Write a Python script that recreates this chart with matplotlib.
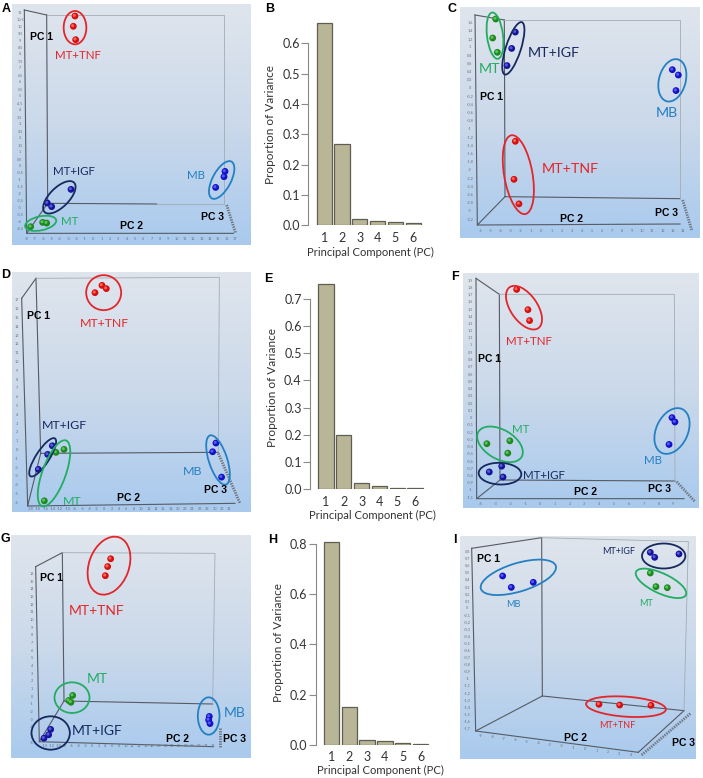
import numpy as np
import matplotlib
matplotlib.use("Agg")
import matplotlib.pyplot as plt
from matplotlib.colors import LinearSegmentedColormap
from matplotlib.patches import Ellipse
from matplotlib.transforms import blended_transform_factory, offset_copy

W, H = 703, 778

# variance explained
pc_labels = [1, 2, 3, 4, 5, 6]
var_b = [0.666, 0.267, 0.020, 0.015, 0.011, 0.008]
var_e = [0.755, 0.197, 0.020, 0.009, 0.004, 0.004]
var_h = [0.807, 0.150, 0.017, 0.015, 0.007, 0.004]

# PCA scores per panel (PC2, PC1)
a_tnf_x, a_tnf_y = [-2.2, -2.4, -2.12], [10.76, 10.02, 9.06]
a_igf_x, a_igf_y = [-2.68, -5.52, -5.0], [-1.68, -2.66, -2.92]
a_mt_x, a_mt_y = [-7.52, -6.08, -5.6], [-4.36, -4.05, -4.10]
a_mb_x, a_mb_y = [15.8, 15.68, 14.68], [-0.39, -0.77, -1.54]

c_tnf_x, c_tnf_y = [-2.57, -2.70, -2.21], [-1.30, -2.23, -2.83]
c_igf_x, c_igf_y = [-2.57, -2.93, -3.39], [1.37, 0.97, 0.55]
c_mt_x, c_mt_y = [-4.51, -4.81, -4.35], [1.69, 1.225, 0.875]
c_mb_x, c_mb_y = [12.98, 13.57, 13.34], [0.45, 0.32, -0.06]

d_tnf_x, d_tnf_y = [-2.52, -0.62, 0.56], [17.87, 18.70, 18.33]
d_igf_x, d_igf_y = [-14.11, -15.38, -17.92], [0.48, -0.5, -2.2]
d_mt_x, d_mt_y = [-13.12, -10.94, -16.29], [-0.27, 0.07, -5.77]
d_mb_x, d_mb_y = [30.36, 29.46, 31.9], [0.79, -0.2, -3.08]

f_tnf_x, f_tnf_y = [-1.57, -0.81, -0.70], [1.77, 1.49, 1.34]
f_igf_x, f_igf_y = [-3.42, -2.58, -2.49], [-0.75, -0.67, -0.82]
f_mt_x, f_mt_y = [-3.58, -2.03, -2.17], [-0.36, -0.32, -0.49]
f_mb_x, f_mb_y = [8.91, 9.11, 8.71], [0.0, -0.06, -0.37]

g_tnf_x, g_tnf_y = [5.58, 4.68, 3.99], [17.99, 16.97, 15.78]
g_igf_x, g_igf_y = [-12.31, -12.91, -14.3], [-4.27, -4.97, -5.42]
g_mt_x, g_mt_y = [-5.75, -6.94, -6.25], [0.16, -0.50, -0.73]
g_mb_x, g_mb_y = [35.0, 34.8, 35.2], [-2.58, -3.03, -3.51]

i_tnf_x, i_tnf_y = [1.23, 3.02, 5.73], [-1.36, -1.37, -1.375]
i_igf_x, i_igf_y = [5.67, 6.05, 8.15], [0.79, 0.72, 0.767]
i_mt_x, i_mt_y = [5.67, 6.16, 7.14], [0.498, 0.305, 0.29]
i_mb_x, i_mb_y = [-7.10, -6.35, -4.45], [0.456, 0.295, 0.366]

RED, NAVY, GREEN, BLUE = "#e3262b", "#17295f", "#22ad62", "#2580c3"
SPHERES = {"tnf": ("#d80f0f", "#ff7a6a"), "igf": ("#14149c", "#6a6ae8"),
           "mt": ("#1c8a1c", "#6fd06f"), "mb": ("#1212c8", "#6a6aff")}

plt.rcParams["font.family"] = ["Lato", "DejaVu Sans"]
fig = plt.figure(figsize=(W / 100, H / 100), dpi=100)
fig.patch.set_facecolor("white")

# overlay in pixels, for frames, ellipses and labels
pix = fig.add_axes([0, 0, 1, 1], zorder=5)
pix.set_xlim(0, W)
pix.set_ylim(H, 0)
pix.axis("off")
pix.patch.set_alpha(0)

bg = LinearSegmentedColormap.from_list("bg", ["#dfe5ed", "#cbd9ea", "#a9caee"])


def fmt(v):
    s = ("%.1f" % v).replace(".", ",")
    return s[:-2] if s.endswith(",0") else s


def scatter_panel(p):
    ox, oy = p["origin"]
    l, t, r, b = p["box"]
    # crop coordinates were read at 3x
    zx = lambda v: ox + v / 3
    zy = lambda v: oy + v / 3
    ax = fig.add_axes([l / W, 1 - b / H, (r - l) / W, (b - t) / H], zorder=2)
    ax.imshow(np.linspace(0, 1, 200)[:, None], cmap=bg, aspect="auto",
              extent=[0, 1, 0, 1], transform=ax.transAxes, zorder=0)
    (v1, x1), (v2, x2) = p["xcal"]
    sx = (v2 - v1) / (zx(x2) - zx(x1))
    ax.set_xlim(v1 + (l - zx(x1)) * sx, v1 + (r - zx(x1)) * sx)
    (u1, y1), (u2, y2) = p["ycal"]
    sy = (u2 - u1) / (zy(y2) - zy(y1))
    ax.set_ylim(u1 + (b - zy(y1)) * sy, u1 + (t - zy(y1)) * sy)
    ax.axis("off")

    for seg in p["dark"]:
        xs, ys = zip(*seg)
        ax.plot([zx(v) for v in xs], [zy(v) for v in ys], color="#565b64", lw=0.8,
                transform=pix.transData, clip_on=False, zorder=1)
    for seg in p["light"]:
        xs, ys = zip(*seg)
        ax.plot([zx(v) for v in xs], [zy(v) for v in ys], color="#a3abb5", lw=0.6,
                transform=pix.transData, clip_on=False, zorder=1)
    xs, ys = zip(*p["hatch"])
    ax.plot([zx(v) for v in xs], [zy(v) for v in ys], color="#6f7680", lw=2,
            ls=(0, (0.5, 0.4)), transform=pix.transData, clip_on=False, zorder=1)

    # tiny tick labels
    tx = blended_transform_factory(ax.transData, pix.transData)
    ty = blended_transform_factory(pix.transData, ax.transData)
    for v in p["xticks"]:
        ypos = p["xtick_y"]
        if "xtick_slope" in p:
            ypos = ypos + p["xtick_slope"] * (v - p["xticks"][0])
        ax.text(v, zy(ypos), fmt(v), transform=tx, fontsize=2.8, color="#6c7480",
                ha="center", va="center", zorder=1)
    for v in p["yticks"]:
        ax.text(zx(p["ytick_x"]), v, fmt(v), transform=ty, fontsize=2.8, color="#6c7480",
                ha="center", va="center", zorder=1)

    shift = offset_copy(ax.transData, fig=fig, x=-0.5, y=0.5, units="points")
    for key, xv, yv in p["groups"]:
        dark, light = SPHERES[key]
        ax.scatter(xv, yv, s=24, color=dark, edgecolors="none", zorder=3)
        ax.scatter(xv, yv, s=5, color=light, edgecolors="none", zorder=4, transform=shift, alpha=0.8)

    for cx, cy, major, minor, ang, col in p["ellipses"]:
        pix.add_patch(Ellipse((zx(cx), zy(cy)), major / 3, minor / 3, angle=ang,
                              fill=False, ec=col, lw=1.3))
    for txt, cx, cy, col in p["labels"]:
        pix.text(zx(cx), zy(cy), txt, color=col, fontsize=p["fs"], ha="center", va="center")
    for txt, cx, cy in p["pcs"]:
        pix.text(zx(cx), zy(cy), txt, color="black", fontsize=7.5, ha="center", va="center",
                 fontweight="bold", family="Liberation Sans")


def bar_panel(values, yticks, left, x0, y0, ppu, top, xl_y, xl_x, yl_x, yl_y, lab_y):
    right = left + 118
    ax = fig.add_axes([left / W, 1 - y0 / H, (right - left) / W, (y0 - top) / H], zorder=2)
    ax.bar(pc_labels, values, width=0.86, color="#b9b597", edgecolor="#5e5e52", lw=0.9)
    ax.set_xlim(1 - (x0 - left) / 17.8, 1 + (right - x0) / 17.8)
    ax.set_ylim(0, (y0 - top) / ppu)
    for s in ["top", "right", "bottom"]:
        ax.spines[s].set_visible(False)
    ax.spines["left"].set_color("#8a8a8a")
    ax.spines["left"].set_bounds(0, yticks[-1])
    ax.set_yticks(yticks, ["%.1f" % v for v in yticks])
    ax.tick_params(axis="y", length=5, width=0.8, color="#8a8a8a", labelsize=9, labelcolor="#333333", pad=1)
    ax.set_xticks(pc_labels)
    ax.tick_params(axis="x", length=0, labelsize=9, labelcolor="#333333", pad=0)
    for lab in ax.get_xticklabels():
        lab.set_visible(False)
    ax.patch.set_alpha(0)
    for v in pc_labels:
        pix.text(x0 + 17.8 * (v - 1), lab_y, str(v), fontsize=9, color="#333333", ha="center", va="center")
    pix.text(xl_x, xl_y, "Principal Component (PC)", fontsize=8.1, color="#333333", ha="center", va="center")
    pix.text(yl_x, yl_y, "Proportion of Variance", fontsize=8.5, color="#333333", ha="center", va="center",
             rotation=90)


panels = [
    dict(origin=(0, 0), box=(12, 4, 250, 245), fs=8.3,
         xcal=((-8, 80), (17, 705)), ycal=((11, 38), (-4.5, 686)),
         xticks=list(range(-8, 18)), xtick_y=717, yticks=list(np.arange(-4.5, 11.1, 0.5)), ytick_x=60,
         dark=[[(73, 30), (140, 45)], [(73, 30), (80, 700), (700, 700)], [(140, 45), (143, 610)],
               [(143, 610), (80, 700)], [(143, 610), (470, 612)]],
         light=[[(140, 45), (673, 45), (673, 610)], [(470, 612), (673, 612)]],
         hatch=[(680, 615), (707, 700)],
         groups=[("tnf", a_tnf_x, a_tnf_y), ("igf", a_igf_x, a_igf_y), ("mt", a_mt_x, a_mt_y), ("mb", a_mb_x, a_mb_y)],
         ellipses=[(225, 83, 68, 100, 0, RED), (178, 592, 125, 58, -45, NAVY),
                   (122, 670, 95, 42, -12, GREEN), (665, 540, 125, 55, -62, BLUE)],
         labels=[("MT+TNF", 233, 167, RED), ("MT+IGF", 223, 515, NAVY), ("MT", 208, 663, GREEN), ("MB", 588, 525, BLUE)],
         pcs=[("PC 1", 123, 112), ("PC 2", 393, 677), ("PC 3", 638, 651)]),
    dict(origin=(460, 0), box=(460, 7, 699, 238), fs=10.3,
         xcal=((-6, 62), (14, 668)), ycal=((1.6, 68), (-3.2, 657)),
         xticks=list(range(-6, 15)), xtick_y=693, yticks=list(np.arange(-3.2, 1.7, 0.2)), ytick_x=30,
         dark=[[(45, 45), (133, 60)], [(45, 45), (52, 675), (660, 672)], [(133, 60), (135, 590)],
               [(135, 590), (52, 675)], [(135, 590), (660, 596)]],
         light=[[(133, 60), (660, 60), (660, 596)]],
         hatch=[(668, 600), (695, 690)],
         groups=[("tnf", c_tnf_x, c_tnf_y), ("igf", c_igf_x, c_igf_y), ("mt", c_mt_x, c_mt_y), ("mb", c_mb_x, c_mb_y)],
         ellipses=[(105, 107, 140, 48, 83, GREEN), (160, 145, 165, 45, -72, NAVY),
                   (637, 241, 130, 80, -75, BLUE), (175, 524, 240, 85, 80, RED)],
         labels=[("MT+IGF", 282, 158, NAVY), ("MT", 88, 207, GREEN), ("MB", 620, 340, BLUE), ("MT+TNF", 331, 508, RED)],
         pcs=[("PC 1", 93, 291), ("PC 2", 334, 657), ("PC 3", 620, 640)]),
    dict(origin=(0, 260), box=(12, 272, 250, 512), fs=8.9,
         xcal=((-20, 92), (34, 688)), ycal=((17, 121), (0, 570)),
         xticks=list(range(-20, 35, 2)), xtick_y=748, yticks=list(range(-6, 18)), ytick_x=50,
         dark=[[(65, 115), (108, 55)], [(65, 115), (83, 738), (705, 730)], [(108, 55), (122, 580)],
               [(122, 580), (83, 738)], [(122, 580), (655, 577)]],
         light=[[(108, 55), (658, 52), (655, 577)]],
         hatch=[(655, 580), (720, 730)],
         groups=[("tnf", d_tnf_x, d_tnf_y), ("igf", d_igf_x, d_igf_y), ("mt", d_mt_x, d_mt_y), ("mb", d_mb_x, d_mb_y)],
         ellipses=[(311, 98, 105, 105, 0, RED), (128, 592, 135, 40, -57, NAVY),
                   (162, 640, 210, 70, -70, GREEN), (654, 600, 155, 55, 72, BLUE)],
         labels=[("MT+TNF", 312, 190, RED), ("MT+IGF", 192, 497, NAVY), ("MT", 218, 725, GREEN), ("MB", 578, 633, BLUE)],
         pcs=[("PC 1", 116, 167), ("PC 2", 385, 714), ("PC 3", 647, 690)]),
    dict(origin=(460, 260), box=(463, 273, 699, 508), fs=8.3,
         xcal=((-4, 62), (9, 640)), ycal=((1.9, 60), (-1.1, 712)),
         xticks=list(range(-4, 10)), xtick_y=732, yticks=list(np.arange(-1.1, 2.0, 0.1)), ytick_x=32,
         dark=[[(48, 55), (118, 103)], [(48, 55), (50, 716), (672, 716)], [(118, 103), (120, 660)],
               [(120, 660), (50, 716)], [(120, 660), (645, 663)]],
         light=[[(118, 103), (643, 103), (645, 663)]],
         hatch=[(650, 665), (705, 725)],
         groups=[("tnf", f_tnf_x, f_tnf_y), ("igf", f_igf_x, f_igf_y), ("mt", f_mt_x, f_mt_y), ("mb", f_mb_x, f_mb_y)],
         ellipses=[(192, 143, 150, 80, 55, RED), (120, 553, 150, 88, 30, GREEN),
                   (120, 641, 128, 65, 2, NAVY), (636, 513, 145, 95, -65, BLUE)],
         labels=[("MT+TNF", 208, 245, RED), ("MT", 182, 508, GREEN), ("MT+IGF", 253, 645, NAVY), ("MB", 580, 602, BLUE)],
         pcs=[("PC 1", 90, 297), ("PC 2", 375, 695), ("PC 3", 597, 688)]),
    dict(origin=(0, 520), box=(11, 535, 250, 758), fs=10,
         xcal=((-14, 135), (36, 638)), ycal=((16, 162), (15, 185)),
         xticks=list(range(-14, 37, 2)), xtick_y=678, yticks=list(range(-6, 17)), ytick_x=95,
         dark=[[(107, 140), (187, 98)], [(107, 140), (118, 665), (640, 680)], [(187, 98), (192, 543)],
               [(192, 543), (118, 665)], [(192, 543), (638, 552)]],
         light=[[(187, 98), (645, 100), (638, 552)]],
         hatch=[(660, 625), (660, 682)],
         groups=[("tnf", g_tnf_x, g_tnf_y), ("igf", g_igf_x, g_igf_y), ("mt", g_mt_x, g_mt_y), ("mb", g_mb_x, g_mb_y)],
         ellipses=[(327, 137, 180, 120, -70, RED), (216, 533, 105, 92, 0, GREEN),
                   (152, 639, 115, 100, 0, NAVY), (626, 588, 112, 65, 90, BLUE)],
         labels=[("MT+TNF", 290, 272, RED), ("MT", 292, 476, GREEN), ("MT+IGF", 290, 633, NAVY), ("MB", 704, 580, BLUE)],
         pcs=[("PC 1", 155, 174), ("PC 2", 532, 657), ("PC 3", 703, 656)]),
    dict(origin=(460, 520), box=(460, 536, 696, 759), fs=6.5,
         xcal=((-9, 62), (4, 513)), ycal=((0.8, 95), (0.7, 116.2)),
         xticks=list(range(-9, 5)), xtick_y=648, xtick_slope=4.4, yticks=list(np.arange(-1.7, 0.9, 0.1)), ytick_x=22,
         dark=[[(35, 85), (245, 53)], [(35, 85), (47, 633), (535, 697)], [(245, 53), (247, 528)],
               [(247, 528), (47, 633)], [(247, 528), (672, 572)], [(535, 697), (672, 572)]],
         light=[[(245, 53), (685, 65), (672, 572)]],
         hatch=[(545, 705), (692, 580)],
         groups=[("tnf", i_tnf_x, i_tnf_y), ("igf", i_igf_x, i_igf_y), ("mt", i_mt_x, i_mt_y), ("mb", i_mb_x, i_mb_y)],
         ellipses=[(175, 172, 235, 85, -17, BLUE), (611, 108, 130, 75, 0, NAVY),
                   (603, 190, 165, 60, 25, GREEN), (498, 560, 240, 60, 4, RED)],
         labels=[("MT+IGF", 476, 95, NAVY), ("MT", 558, 250, GREEN), ("MB", 160, 254, BLUE), ("MT+TNF", 472, 617, RED)],
         pcs=[("PC 1", 86, 116), ("PC 2", 345, 655), ("PC 3", 670, 669)]),
]

for p in panels:
    scatter_panel(p)

bar_panel(var_b, [0, 0.1, 0.2, 0.3, 0.4, 0.5, 0.6], 308.3, 324.2, 225.3, 303.3, 18, 252, 370, 270.7, 124, 238)
bar_panel(var_e, [0, 0.1, 0.2, 0.3, 0.4, 0.5, 0.6, 0.7], 310, 326, 488.7, 270.5, 282, 515, 372, 272, 387, 501.5)
bar_panel(var_h, [0, 0.2, 0.4, 0.6, 0.8], 315.7, 331.5, 744.7, 250.8, 540, 770.7, 380, 279, 642.7, 756.7)

for txt, x, y in [("A", 6, 9), ("B", 270, 9), ("C", 452, 9), ("D", 6, 275), ("E", 268, 279),
                  ("F", 455, 277), ("G", 5, 539), ("H", 273, 540), ("I", 455, 540)]:
    pix.text(x, y, txt, fontsize=9, fontweight="bold", family="Liberation Sans", ha="center", va="center")

fig.savefig("out.png", dpi=100)
